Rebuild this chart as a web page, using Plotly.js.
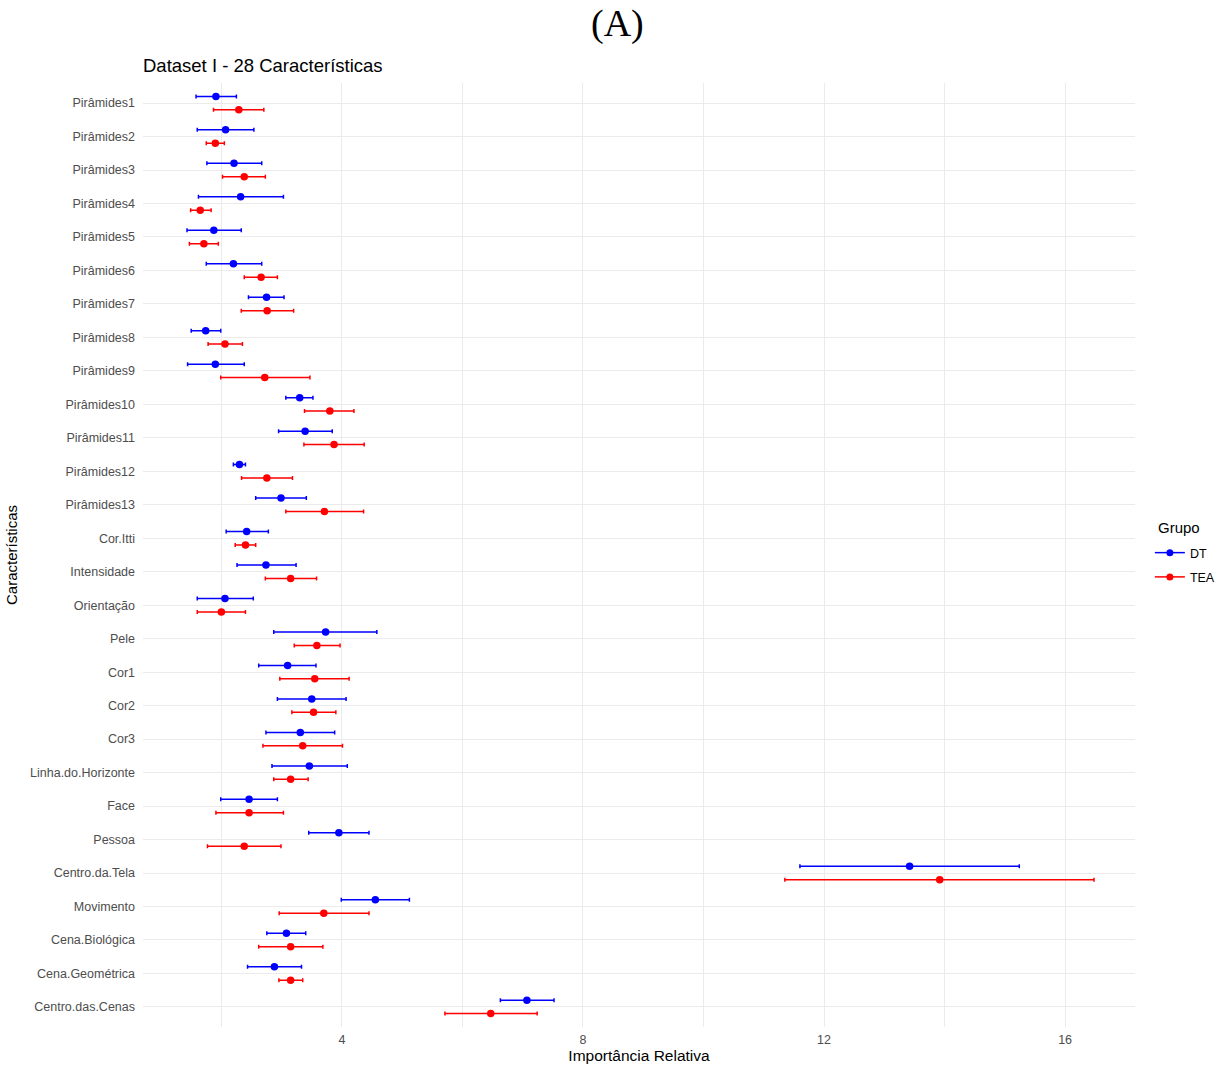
<!DOCTYPE html>
<html>
<head>
<meta charset="utf-8">
<script src="https://cdn.plot.ly/plotly-3.0.1.min.js"></script>
<style>html,body{margin:0;padding:0;background:#fff;}#chart{width:1225px;height:1065px;}</style>
</head>
<body>
<div id="chart"></div>
<script>
const categories = ["Pirâmides1","Pirâmides2","Pirâmides3","Pirâmides4","Pirâmides5","Pirâmides6","Pirâmides7","Pirâmides8","Pirâmides9","Pirâmides10","Pirâmides11","Pirâmides12","Pirâmides13","Cor.Itti","Intensidade","Orientação","Pele","Cor1","Cor2","Cor3","Linha.do.Horizonte","Face","Pessoa","Centro.da.Tela","Movimento","Cena.Biológica","Cena.Geométrica","Centro.das.Cenas"];

const dtMean = [1.91,2.07,2.21,2.32,1.875,2.20,2.75,1.74,1.90,3.30,3.39,2.30,2.99,2.42,2.74,2.06,3.73,3.10,3.50,3.31,3.46,2.46,3.95,13.42,4.555,3.08,2.88,7.07];
const dtLow  = [1.58,1.60,1.76,1.62,1.43,1.75,2.45,1.50,1.44,3.07,2.95,2.20,2.57,2.08,2.26,1.60,2.87,2.62,2.93,2.74,2.84,1.99,3.45,11.60,3.99,2.755,2.435,6.63];
const dtHigh = [2.25,2.54,2.67,3.03,2.33,2.67,3.04,1.99,2.38,3.52,3.84,2.40,3.41,2.78,3.24,2.53,4.58,3.57,4.07,3.88,4.09,2.93,4.45,15.24,5.12,3.40,3.33,7.52];

const teaMean = [2.29,1.90,2.38,1.65,1.71,2.66,2.76,2.06,2.72,3.80,3.87,2.755,3.71,2.40,3.15,2.00,3.585,3.55,3.53,3.35,3.15,2.46,2.38,13.92,3.70,3.15,3.15,6.47];
const teaLow  = [1.87,1.75,2.02,1.49,1.47,2.38,2.33,1.78,1.99,3.38,3.37,2.335,3.07,2.23,2.73,1.60,3.21,2.97,3.17,2.69,2.87,1.91,1.77,11.35,2.96,2.62,2.955,5.71];
const teaHigh = [2.705,2.05,2.73,1.83,1.95,2.93,3.20,2.35,3.47,4.20,4.37,3.18,4.36,2.57,3.58,2.40,3.97,4.12,3.90,4.01,3.44,3.03,2.99,16.48,4.45,3.685,3.35,7.24];

const groups = ["DT","TEA"];
const colors = ["#0000FF","#FF0000"];

const pos = categories.map((c,i)=>i);
const off = 0.2;

function makeTrace(name, color, mean, lo, hi, shift){
  return {
    type:"scatter", mode:"markers", name:name, legendgroup:name, showlegend:false,
    x: mean, y: pos.map(p=>p+shift),
    marker:{color:color, size:7.5},
    error_x:{type:"data", symmetric:false,
      array: mean.map((m,i)=>hi[i]-m),
      arrayminus: mean.map((m,i)=>m-lo[i]),
      color:color, thickness:1.5, width:2},
    hovertemplate: "%{x}<extra>"+name+"</extra>"
  };
}
function legendTrace(name,color){
  return {type:"scatter", mode:"lines+markers", name:name, legendgroup:name,
    x:[null], y:[null], line:{color:color,width:1.5}, marker:{color:color,size:7}, showlegend:true};
}

const data = [
  makeTrace(groups[0], colors[0], dtMean, dtLow, dtHigh, -off),
  makeTrace(groups[1], colors[1], teaMean, teaLow, teaHigh, off),
  legendTrace(groups[0], colors[0]),
  legendTrace(groups[1], colors[1])
];

const layout = {
  width:1225, height:1065,
  margin:{l:143, r:90, t:83, b:38, autoexpand:false},
  paper_bgcolor:"#fff", plot_bgcolor:"#fff",
  font:{family:"Liberation Sans, Arial, sans-serif", color:"#000"},
  showlegend:true,
  legend:{x:1.015, xanchor:"left", y:0.518, yanchor:"top",
    font:{size:12.5, color:"#000"}, tracegroupgap:5, itemwidth:30},
  xaxis:{
    range:[0.70,17.16], tick0:0, dtick:4, showgrid:true, gridcolor:"#EBEBEB", gridwidth:1.1,
    zeroline:false, showline:false, ticks:"",
    tickfont:{size:12.5, color:"#4D4D4D"}, ticklabelstandoff:3,
    minor:{dtick:2, tick0:0, showgrid:true, gridcolor:"#EBEBEB", gridwidth:0.55, ticks:""},
    title:{text:"Importância Relativa", font:{size:15.5, color:"#000"}, standoff:4}
  },
  yaxis:{
    range:[27.6,-0.6], tickmode:"array", tickvals:pos, ticktext:categories,
    showgrid:true, gridcolor:"#EBEBEB", gridwidth:1.1, zeroline:false, showline:false, ticks:"",
    tickfont:{size:12.5, color:"#4D4D4D"}, ticklabelstandoff:7,
    title:{text:"Características", font:{size:15, color:"#000"}, standoff:8}
  },
  annotations:[
    {text:"(A)", xref:"paper", yref:"paper", x:(617-143)/992, y:1, yshift:60, xanchor:"center", yanchor:"middle",
     showarrow:false, font:{family:"Liberation Serif, Times New Roman, serif", size:38, color:"#000"}},
    {text:"Dataset I - 28 Características", xref:"paper", yref:"paper", x:-0.002, y:1, yshift:18,
     xanchor:"left", yanchor:"middle", showarrow:false, font:{size:18.5, color:"#000"}},
    {text:"Grupo", xref:"paper", yref:"paper", x:(1156-143)/992, y:(1027-527)/944, xanchor:"left", yanchor:"middle",
     showarrow:false, font:{size:15, color:"#000"}}
  ]
};

Plotly.newPlot("chart", data, layout, {displayModeBar:false});
</script>
</body>
</html>
